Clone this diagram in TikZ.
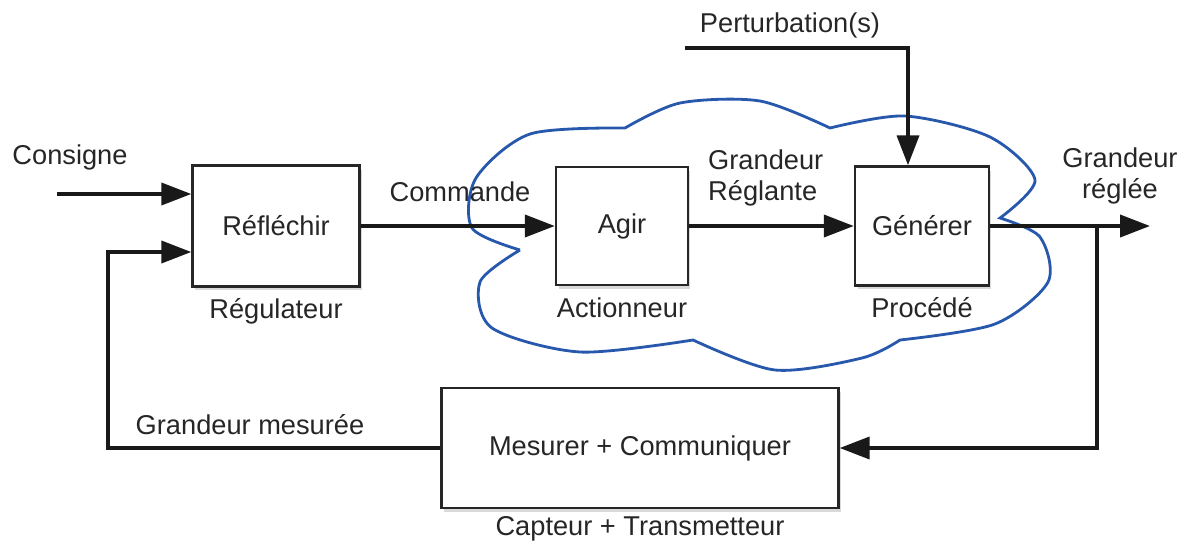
\documentclass[tikz,border=0pt]{standalone}
\usepackage{fontspec}
\setmainfont{Liberation Sans}
\usetikzlibrary{arrows.meta, positioning, shadows}

\definecolor{bleunuage}{RGB}{40,88,172}

\tikzset{
  bloc/.style={draw=black!85, line width=1.4pt, fill=white, minimum width=#1,
    minimum height=2.4cm, inner sep=0pt,
    drop shadow={shadow xshift=0.5mm, shadow yshift=-0.8mm, opacity=0.3}},
  fleche/.style={->, line width=2.1pt, black!90},
  nuage/.style={draw=bleunuage, line width=1.6pt},
}

\begin{document}
\begin{tikzpicture}[x=0.02cm, y=-0.02cm, >={Triangle[length=17pt, width=12.5pt]},
  every node/.style={font=\fontsize{15.5}{18}\selectfont, text=black!85}]
  \useasboundingbox (0,0) rectangle (1201,545);
  % cloud around actuator and process
  \draw[nuage] (520,250)
    -- plot[smooth] coordinates {(520,250) (480,282) (492,328) (580,352) (693,340)}
    -- plot[smooth] coordinates {(693,340) (775,370) (862,358) (900,340)}
    -- plot[smooth] coordinates {(900,340) (995,324) (1048,282) (1040,237) (1000,218)}
    -- plot[smooth] coordinates {(1000,218) (1035,180) (990,137) (905,116) (830,128)}
    -- plot[smooth] coordinates {(830,128) (760,101) (680,103) (625,128)}
    -- plot[smooth] coordinates {(625,128) (530,134) (476,178) (472,228) (520,250)};
  % blocks
  \node[bloc=3.34cm, minimum height=2.42cm] (refl) at (276,226) {Réfléchir};
  \node[bloc=2.64cm, minimum height=2.36cm] (agir) at (622,226) {Agir};
  \node[bloc=2.68cm, minimum height=2.38cm] (gen) at (922,226) {Générer};
  \node[bloc=7.94cm] (mes) at (640,448) {Mesurer + Communiquer};
  \node[below=0.1cm of refl] (regul) {Régulateur};
  \node[below=0.1cm of agir] (actio) {Actionneur};
  \node[below=0.1cm of gen] (proc) {Procédé};
  \node[below=0.02cm of mes] (capt) {Capteur + Transmetteur};
  % signals
  \coordinate (consigne) at (57,194);
  \coordinate (retour) at (108,448);
  \coordinate (pert) at (685,48);
  \coordinate (branche) at (1097,226);
  \coordinate (sortie) at (1150,226);
  \draw[fleche] (consigne) -- (consigne -| refl.west);
  \draw[fleche] (refl) -- (agir);
  \draw[fleche] (agir) -- (gen);
  \draw[fleche] (gen.east) -- (sortie);
  \draw[fleche] (pert) -| ([xshift=-0.28cm]gen.north);
  \draw[fleche] (branche) |- (mes.east);
  \draw[fleche] (mes.west) -- (retour) |- (refl.west |- 0,252);
  % labels
  \node (lcons) at (70,157) {Consigne};
  \node (lcmd) at (460,192) {Commande};
  \node[anchor=west, align=left] (lregl) at (702,178) {Grandeur\\Réglante};
  \node[align=center] (lsort) at (1120,176) {Grandeur\\réglée};
  \node (lpert) at (790,25) {Perturbation(s)};
  \node (lmes) at (250,425) {Grandeur mesurée};
\end{tikzpicture}
\end{document}
